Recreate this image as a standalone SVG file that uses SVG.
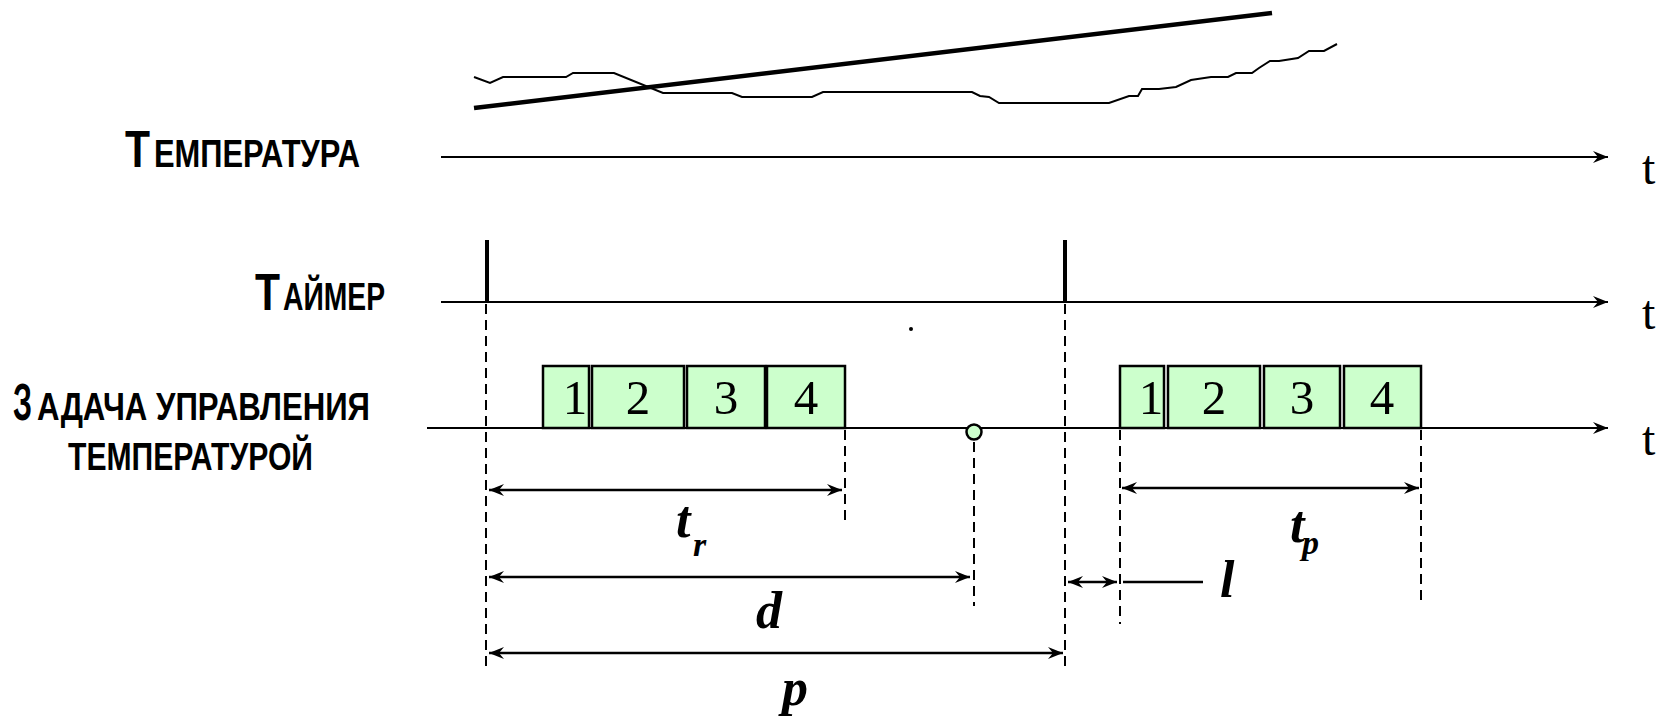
<svg xmlns="http://www.w3.org/2000/svg" width="1663" height="718" viewBox="0 0 1663 718">
  <style>
    .axis { stroke: #000; stroke-width: 2; fill: none; }
    .dash { stroke: #000; stroke-width: 2; stroke-dasharray: 10 6; fill: none; }
    .dim { stroke: #000; stroke-width: 2.5; fill: none; }
    .pulse { stroke: #000; stroke-width: 4; }
    .box { fill: #CCFFCC; stroke: #000; stroke-width: 2.5; }
    .num { font-family: "Liberation Serif", "Times New Roman", serif; font-size: 49px; text-anchor: middle; fill: #000; }
    .tl { font-family: "Liberation Serif", "Times New Roman", serif; font-size: 48px; fill: #000; }
    .lbl { font-family: "Liberation Sans", Arial, sans-serif; font-weight: bold; fill: #000; }
    .big { font-size: 52px; }
    .small { font-size: 38px; }
    .var { font-family: "Liberation Serif", "Times New Roman", serif; font-weight: bold; font-style: italic; fill: #000; }
  </style>
  <defs>
    <marker id="ah" markerUnits="userSpaceOnUse" viewBox="-16 -8 18 16" markerWidth="18" markerHeight="16" refX="0" refY="0" orient="auto-start-reverse">
      <path d="M0,0 L-15,-6 L-10,0 L-15,6 Z" fill="#000"/>
    </marker>
  </defs>

  <g id="temperature-curve">
    <polyline fill="none" stroke="#000" stroke-width="2" points="474,77 490,83 503,77 566,77 573,73 614,73 663,93 732,93 742,97 812,97 823,92 972,92 980,96 989,97 999,103 1109,103 1129,96 1138,96 1142,89 1159,89 1176,87 1191,80 1211,77 1228,77 1236,73 1252,73 1259,68 1270,61 1279,61 1298,58 1309,51 1324,51 1337,44"/>
    <line x1="474" y1="108" x2="1272" y2="13" stroke="#000" stroke-width="4.5"/>
  </g>

  <g id="label-temperature">
    <text class="lbl big" x="125" y="167" textLength="25" lengthAdjust="spacingAndGlyphs">Т</text>
    <text class="lbl small" x="154" y="167" textLength="206" lengthAdjust="spacingAndGlyphs">ЕМПЕРАТУРА</text>
  </g>
  <g id="label-timer">
    <text class="lbl big" x="255" y="310" textLength="25" lengthAdjust="spacingAndGlyphs">Т</text>
    <text class="lbl small" x="283" y="310" textLength="102" lengthAdjust="spacingAndGlyphs">АЙМЕР</text>
  </g>
  <g id="label-task">
    <text class="lbl big" x="13" y="420" textLength="19" lengthAdjust="spacingAndGlyphs">З</text>
    <text class="lbl small" x="37" y="420" textLength="333" lengthAdjust="spacingAndGlyphs">АДАЧА УПРАВЛЕНИЯ</text>
    <text class="lbl small" x="68" y="470" textLength="245" lengthAdjust="spacingAndGlyphs">ТЕМПЕРАТУРОЙ</text>
  </g>

  <g id="axes">
    <line class="axis" x1="441" y1="157" x2="1608" y2="157" marker-end="url(#ah)"/>
    <line class="axis" x1="441" y1="302" x2="1608" y2="302" marker-end="url(#ah)"/>
    <line class="axis" x1="427" y1="428" x2="1608" y2="428" marker-end="url(#ah)"/>
    <text class="tl" x="1642" y="184">t</text>
    <text class="tl" x="1642" y="329">t</text>
    <text class="tl" x="1642" y="455">t</text>
  </g>

  <g id="timer-pulses">
    <line class="pulse" x1="487" y1="240" x2="487" y2="302"/>
    <line class="pulse" x1="1065" y1="240" x2="1065" y2="302"/>
  </g>

  <g id="task-run-1">
    <rect class="box" x="543" y="366" width="46" height="62"/>
    <rect class="box" x="592" y="366" width="92" height="62"/>
    <rect class="box" x="687" y="366" width="78" height="62"/>
    <rect class="box" x="767" y="366" width="78" height="62"/>
    <text class="num" x="575" y="414">1</text>
    <text class="num" x="638" y="414">2</text>
    <text class="num" x="726" y="414">3</text>
    <text class="num" x="806" y="414">4</text>
  </g>
  <g id="task-run-2">
    <rect class="box" x="1120" y="366" width="44" height="62"/>
    <rect class="box" x="1168" y="366" width="92" height="62"/>
    <rect class="box" x="1264" y="366" width="76" height="62"/>
    <rect class="box" x="1344" y="366" width="77" height="62"/>
    <text class="num" x="1151" y="414">1</text>
    <text class="num" x="1214" y="414">2</text>
    <text class="num" x="1302" y="414">3</text>
    <text class="num" x="1382" y="414">4</text>
  </g>

  <g id="deadline">
    <circle cx="974" cy="432" r="7.5" fill="#CCFFCC" stroke="#000" stroke-width="2.5"/>
    <circle cx="911" cy="329" r="2" fill="#000"/>
  </g>

  <g id="connectors">
    <line class="dash" x1="486" y1="304" x2="486" y2="668"/>
    <line class="dash" x1="1065" y1="304" x2="1065" y2="668"/>
    <line class="dash" x1="845" y1="430" x2="845" y2="524"/>
    <line class="dash" x1="974" y1="442" x2="974" y2="606"/>
    <line class="dash" x1="1120" y1="430" x2="1120" y2="624"/>
    <line class="dash" x1="1421" y1="430" x2="1421" y2="606"/>

    <line class="dim" x1="489" y1="490" x2="842" y2="490" marker-start="url(#ah)" marker-end="url(#ah)"/>
    <line class="dim" x1="489" y1="577" x2="970" y2="577" marker-start="url(#ah)" marker-end="url(#ah)"/>
    <line class="dim" x1="489" y1="653" x2="1063" y2="653" marker-start="url(#ah)" marker-end="url(#ah)"/>
    <line class="dim" x1="1122" y1="488" x2="1419" y2="488" marker-start="url(#ah)" marker-end="url(#ah)"/>
    <line class="dim" x1="1068" y1="582" x2="1117" y2="582" marker-start="url(#ah)" marker-end="url(#ah)"/>
    <line class="dim" x1="1123" y1="582" x2="1203" y2="582"/>
  </g>

  <g id="dimension-labels">
    <text class="var" x="676" y="537" font-size="52">t</text>
    <text class="var" x="693" y="556" font-size="34">r</text>
    <text class="var" x="756" y="628" font-size="52">d</text>
    <text class="var" x="782" y="705" font-size="52">p</text>
    <text class="var" x="1290" y="542" font-size="52">t</text>
    <text class="var" x="1302" y="554" font-size="34">p</text>
    <text class="var" x="1220" y="597" font-size="52">l</text>
  </g>
</svg>
